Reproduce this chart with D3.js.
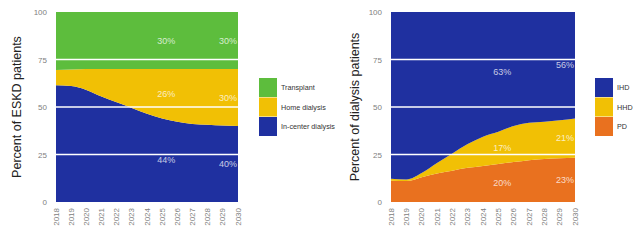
<!DOCTYPE html>
<html lang="en">
<head>
<meta charset="UTF-8">
<title>ESKD modality projections</title>
<script src="https://cdn.jsdelivr.net/npm/d3@7"></script>
<style>
  body { margin: 0; background: #fff; }
  text { font-family: "Liberation Sans", Arial, sans-serif; }
</style>
</head>
<body>
<svg id="mainsvg" width="640" height="240"></svg>
<script>
// data
const years = [2018, 2019, 2020, 2021, 2022, 2023, 2024, 2025, 2026, 2027, 2028, 2029, 2030];

// left panel: share of ESKD patients (%)
const inCenter  = [61.5, 61, 59, 55.5, 52.5, 49.5, 46.5, 44, 42.2, 41, 40.6, 40.2, 40];
const homeDial  = [8, 8.8, 11, 14.5, 17.5, 20.5, 23.5, 26, 27.8, 29, 29.4, 29.8, 30];
const transplant = inCenter.map((d, i) => 100 - d - homeDial[i]);
const leftKeys = ['In-center dialysis', 'Home dialysis', 'Transplant'];
const leftLabels = [
  {year: 2025, texts: ['44%', '26%', '30%']},
  {year: 2030, texts: ['40%', '30%', '30%']}
];

// right panel: share of dialysis patients (%)
const pd  = [11.2, 11, 13, 15, 16.5, 18, 19, 20, 21, 22, 22.6, 23, 23.3];
const hhd = [1, 0.8, 2.2, 5.5, 9, 12.5, 15.4, 17, 19, 19.7, 19.7, 20, 20.7];
const ihd = pd.map((d, i) => 100 - d - hhd[i]);
const rightKeys = ['PD', 'HHD', 'IHD'];
const rightLabels = [
  {year: 2025, texts: ['20%', '17%', '63%']},
  {year: 2030, texts: ['23%', '21%', '56%']}
];

const yTicks = [0, 25, 50, 75, 100];

const mainsvg = d3.select('#mainsvg');

const drawPanel = (opt) => {
  const g = mainsvg.append('g');
  const xScale = d3.scaleLinear().domain([2018, 2030]).range([opt.x0, opt.x1]);
  const yScale = d3.scaleLinear().domain([0, 100]).range([202, 12]);

  const table = years.map((y, i) => {
    const row = {year: y};
    opt.keys.forEach((k, j) => row[k] = opt.series[j][i]);
    return row;
  });
  const stacked = d3.stack().keys(opt.keys)(table);

  const area = d3.area()
    .x(d => xScale(d.data.year))
    .y0(d => yScale(d[0]))
    .y1(d => yScale(d[1]))
    .curve(d3.curveMonotoneX);

  g.selectAll('path.band').data(stacked).join('path')
    .attr('class', 'band')
    .attr('d', area)
    .attr('fill', (d, i) => opt.colors[i]);

  // white grid lines over the bands
  g.selectAll('line.grid').data([25, 50, 75]).join('line')
    .attr('class', 'grid')
    .attr('x1', opt.x0).attr('x2', opt.x1)
    .attr('y1', d => yScale(d)).attr('y2', d => yScale(d))
    .attr('stroke', '#ffffff').attr('stroke-width', 1.3);

  // y axis
  const yAxis = g.append('g')
    .attr('transform', `translate(${opt.x0 - 3},0)`)
    .call(d3.axisLeft(yScale).tickValues(yTicks).tickSize(0).tickPadding(6));
  yAxis.select('.domain').remove();
  yAxis.selectAll('text').attr('fill', '#808080').attr('font-size', 8);

  // x axis, labels rotated
  const xAxis = g.append('g')
    .attr('transform', `translate(0,207)`)
    .call(d3.axisBottom(xScale).tickValues(years).tickFormat(d3.format('d')).tickSize(0));
  xAxis.select('.domain').remove();
  xAxis.selectAll('.tick').attr('transform', null);
  xAxis.selectAll('text')
    .attr('fill', '#808080').attr('font-size', 8)
    .attr('text-anchor', 'end')
    .attr('x', 0).attr('y', 0)
    .attr('dx', '-1').attr('dy', '0.32em')
    .attr('transform', d => `translate(${xScale(d)},0) rotate(-90)`);

  // y title
  g.append('text')
    .attr('transform', `translate(${opt.titleX},107) rotate(-90)`)
    .attr('text-anchor', 'middle')
    .attr('font-size', 12.5)
    .attr('fill', '#222')
    .text(opt.title);

  // value labels at band middles
  opt.labels.forEach(lab => {
    const idx = years.indexOf(lab.year);
    const isEnd = lab.year === 2030;
    stacked.forEach((s, j) => {
      const mid = (s[idx][0] + s[idx][1]) / 2;
      g.append('text')
        .attr('x', isEnd ? xScale(lab.year) - 1 : xScale(lab.year) + 4)
        .attr('y', yScale(mid) + 3)
        .attr('text-anchor', isEnd ? 'end' : 'middle')
        .attr('font-size', 9)
        .attr('fill', '#ffffff')
        .attr('fill-opacity', 0.75)
        .text(lab.texts[j]);
    });
  });

  // legend, top to bottom reversed from stacking order
  const legendKeys = opt.keys.slice().reverse();
  const legendColors = opt.colors.slice().reverse();
  const lg = g.append('g').attr('transform', `translate(${opt.legendX},78)`);
  legendKeys.forEach((k, i) => {
    lg.append('rect')
      .attr('x', 0).attr('y', i * 19.5)
      .attr('width', 18).attr('height', 19)
      .attr('fill', legendColors[i]);
    lg.append('text')
      .attr('x', 22).attr('y', i * 19.5 + 12)
      .attr('font-size', 7.2)
      .attr('fill', '#333')
      .text(k);
  });
};

drawPanel({
  x0: 56, x1: 238,
  keys: leftKeys,
  series: [inCenter, homeDial, transplant],
  colors: ['#1f30a0', '#f1c005', '#5dbd3d'],
  labels: leftLabels,
  title: 'Percent of ESKD patients',
  titleX: 21,
  legendX: 259
});

drawPanel({
  x0: 391, x1: 575,
  keys: rightKeys,
  series: [pd, hhd, ihd],
  colors: ['#e9711f', '#f1c005', '#1f30a0'],
  labels: rightLabels,
  title: 'Percent of dialysis patients',
  titleX: 359,
  legendX: 595
});
</script>
</body>
</html>
